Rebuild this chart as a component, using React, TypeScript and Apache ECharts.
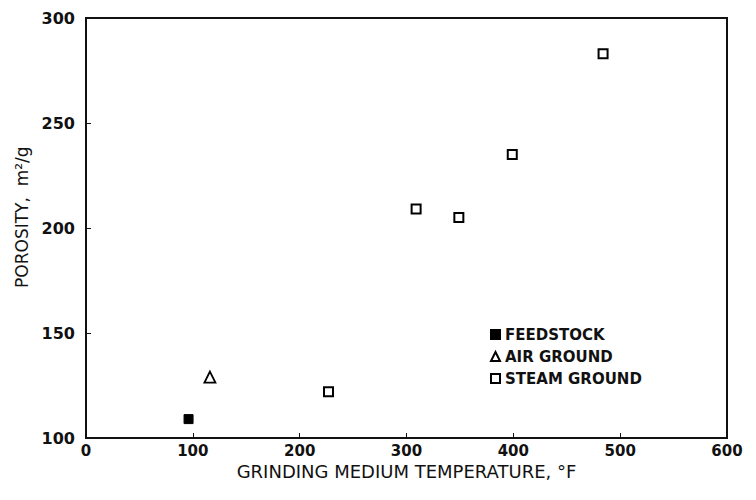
import React, { useEffect, useRef } from "react";
import * as echarts from "echarts";

const xTicks = [0, 100, 200, 300, 400, 500, 600];
const yTicks = [100, 150, 200, 250, 300];
const feedstock: [number, number][] = [[96, 109]];
const airGround: [number, number][] = [[116, 129]];
const steamGround: [number, number][] = [
  [227, 122],
  [309, 209],
  [349, 205],
  [399, 235],
  [484, 283],
];

export default function App() {
  const ref = useRef<HTMLDivElement>(null);
  useEffect(() => {
    if (!ref.current) return;
    const chart = echarts.init(ref.current, undefined, { renderer: "svg" });
    const font = "DejaVu Sans";
    chart.setOption({
      animation: false,
      backgroundColor: "#ffffff",
      grid: {
        left: 86,
        right: 29,
        top: 18,
        bottom: 62,
        show: true,
        borderColor: "#111",
        borderWidth: 2,
      },
      legend: {
        orient: "vertical",
        left: 485,
        top: 322,
        itemGap: 7,
        itemWidth: 9,
        itemHeight: 9,
        textStyle: { fontFamily: font, fontSize: 15, fontWeight: "bold", color: "#111" },
        data: ["FEEDSTOCK", "AIR GROUND", "STEAM GROUND"],
      },
      xAxis: {
        type: "value",
        min: xTicks[0],
        max: xTicks[xTicks.length - 1],
        interval: 100,
        name: "GRINDING MEDIUM TEMPERATURE, °F",
        nameLocation: "middle",
        nameGap: 21,
        nameTextStyle: { fontFamily: font, fontSize: 18, color: "#111" },
        axisLine: { show: true, lineStyle: { color: "#111", width: 2 } },
        axisTick: { show: true, inside: true, length: 5, lineStyle: { color: "#111" } },
        axisLabel: { fontFamily: font, fontSize: 15, fontWeight: "bold", color: "#111", margin: 5 },
        splitLine: { show: false },
      },
      yAxis: {
        type: "value",
        min: yTicks[0],
        max: yTicks[yTicks.length - 1],
        interval: 50,
        name: "\u00a0\u00a0\u00a0\u00a0POROSITY,  m²/g",
        nameLocation: "middle",
        nameGap: 50,
        nameRotate: 90,
        nameTextStyle: { fontFamily: font, fontSize: 17, color: "#111" },
        axisLine: { show: true, lineStyle: { color: "#111", width: 2 } },
        axisTick: { show: true, inside: true, length: 5, lineStyle: { color: "#111" } },
        axisLabel: { fontFamily: font, fontSize: 16, fontWeight: "bold", color: "#111", margin: 11 },
        splitLine: { show: false },
      },
      series: [
        {
          name: "FEEDSTOCK",
          type: "scatter",
          data: feedstock,
          symbol: "rect",
          symbolSize: 9,
          itemStyle: { color: "#000", borderColor: "#000", borderWidth: 1, opacity: 1 },
        },
        {
          name: "AIR GROUND",
          type: "scatter",
          data: airGround,
          symbol: "triangle",
          symbolSize: 11,
          itemStyle: { color: "#fff", borderColor: "#000", borderWidth: 1.8, opacity: 1 },
        },
        {
          name: "STEAM GROUND",
          type: "scatter",
          data: steamGround,
          symbol: "rect",
          symbolSize: 9,
          itemStyle: { color: "#fff", borderColor: "#000", borderWidth: 2, opacity: 1 },
        },
      ],
    });
    return () => chart.dispose();
  }, []);
  return (
    <div
      ref={ref}
      style={{ position: "absolute", left: 0, top: 0, width: 756, height: 500 }}
    />
  );
}
